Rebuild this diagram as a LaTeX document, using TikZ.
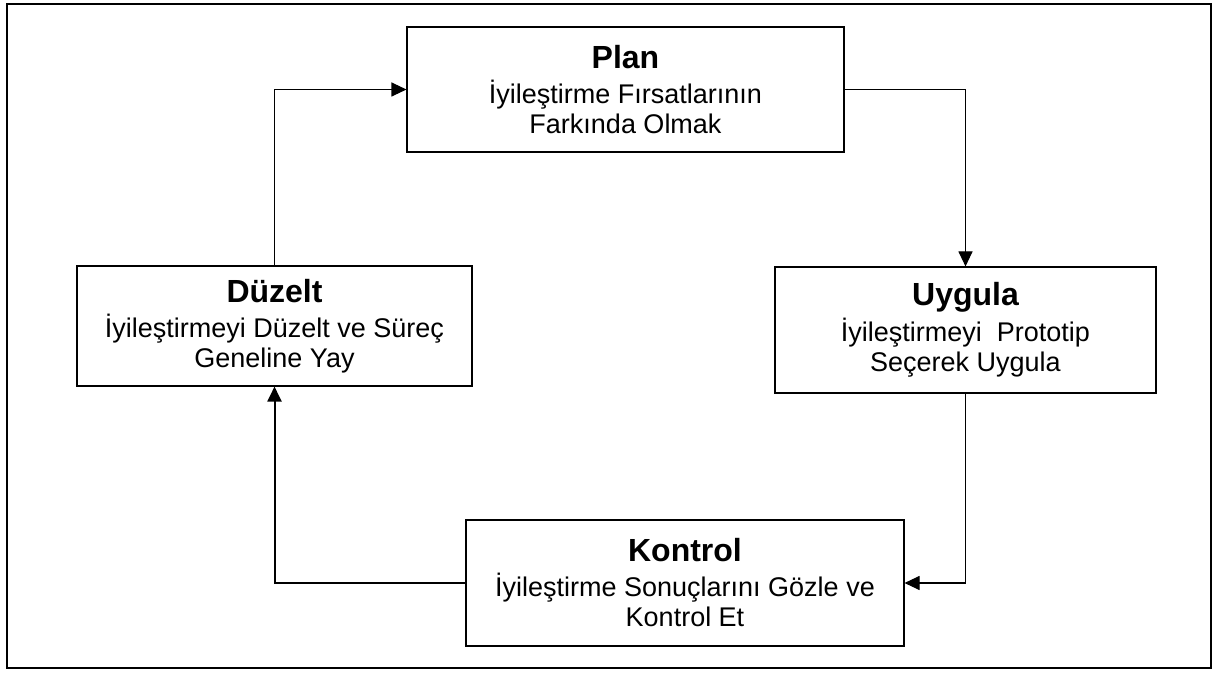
\documentclass[tikz,border=0pt]{standalone}
\usepackage{fontspec}
\setmainfont{Liberation Sans}
\usetikzlibrary{arrows.meta}
\begin{document}
\begin{tikzpicture}[x=1pt,y=-1pt,
  stagebox/.style={draw, line width=1.1pt, inner sep=0pt, align=center,
    font=\fontsize{27}{30}\selectfont},
  stagetitle/.style={font=\fontsize{32}{36}\selectfont\bfseries},
  link/.style={line width=1.1pt, -{Triangle[length=15pt,width=14pt]}},
]
\useasboundingbox (0,0) rectangle (1219,676);
\fill[white] (0,0) rectangle (1219,676);
% outer frame
\draw[line width=2.2pt] (7,4) rectangle (1211,668);

% the four stages of the cycle
\node[stagebox, minimum width=437pt, minimum height=125pt] (plan) at (625.5,89.5)
  {{\fontsize{32}{36}\selectfont\bfseries Plan}\\[5pt]İyileştirme Fırsatlarının\\Farkında Olmak};
\node[stagebox, minimum width=381pt, minimum height=126pt] (uygula) at (965.5,330)
  {{\fontsize{32}{36}\selectfont\bfseries Uygula}\\[5pt]İyileştirmeyi~ Prototip\\Seçerek Uygula};
\node[stagebox, minimum width=438pt, minimum height=126pt] (kontrol) at (685,583)
  {{\fontsize{32}{36}\selectfont\bfseries Kontrol}\\[5pt]İyileştirme Sonuçlarını Gözle ve\\Kontrol Et};
\node[stagebox, minimum width=395pt, minimum height=120pt] (duzelt) at (274.5,326)
  {{\fontsize{32}{36}\selectfont\bfseries Düzelt}\\[5pt]İyileştirmeyi Düzelt ve Süreç\\Geneline Yay};

% connectors
\draw[link] (duzelt.north) |- (plan.west);
\draw[link] (plan.east) -| (uygula.north);
\draw[link] (uygula.south) |- (kontrol.east);
\draw[link, line width=2pt] (kontrol.west) -| (duzelt.south);
\end{tikzpicture}
\end{document}
